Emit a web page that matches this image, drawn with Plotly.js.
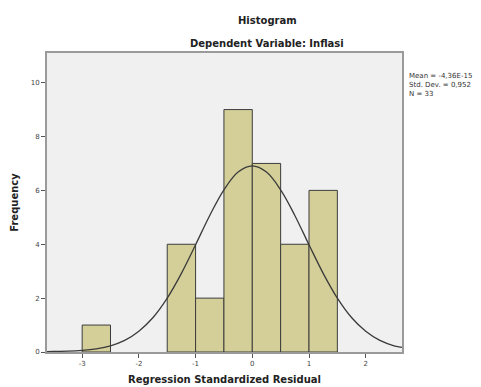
<!DOCTYPE html>
<html>
<head>
<meta charset="utf-8">
<script src="https://cdn.plot.ly/plotly-3.0.1.min.js"></script>
<style>html,body{margin:0;padding:0;background:#fff;}#chart{width:481px;height:387px;}</style>
</head>
<body>
<div id="chart"></div>
<script>
// Histogram bins (centers, width 0.5) and frequencies
const binCenters = [-2.75, -1.25, -0.75, -0.25, 0.25, 0.75, 1.25];
const frequencies = [1, 4, 2, 9, 7, 4, 6];
// Normal curve points
const curveX = [-3.62, -3.5, -3.25, -3.0, -2.75, -2.5, -2.25, -2.0, -1.75, -1.5, -1.25, -1.0, -0.75, -0.5, -0.25, 0, 0.25, 0.5, 0.75, 1.0, 1.25, 1.5, 1.75, 2.0, 2.25, 2.5, 2.64];
const curveY = [0.01, 0.02, 0.03, 0.06, 0.12, 0.23, 0.43, 0.77, 1.28, 2.0, 2.92, 3.98, 5.07, 6.02, 6.68, 6.91, 6.68, 6.02, 5.07, 3.98, 2.92, 2.0, 1.28, 0.77, 0.43, 0.23, 0.17];
const xTicks = [-3, -2, -1, 0, 1, 2];
const yTicks = [0, 2, 4, 6, 8, 10];
const statsLines = ["Mean = -4,36E-15", "Std. Dev. = 0,952", "N = 33"];

const traces = [
  {
    type: 'bar', x: binCenters, y: frequencies, width: 0.5,
    marker: {color: '#d4cf98', line: {color: '#3c3c3c', width: 1}},
    hoverinfo: 'skip'
  },
  {
    type: 'scatter', mode: 'lines', x: curveX, y: curveY,
    line: {color: '#3a3a3a', width: 1.3, shape: 'spline'},
    hoverinfo: 'skip'
  }
];

const FONT = 'DejaVu Sans, Verdana, sans-serif';
const layout = {
  width: 481, height: 387,
  margin: {l: 47, r: 79, t: 53, b: 35},
  paper_bgcolor: '#ffffff', plot_bgcolor: '#f0f0f0',
  showlegend: false,
  font: {family: FONT, color: '#222'},
  xaxis: {
    range: [-3.62, 2.64], tickvals: xTicks, ticktext: xTicks.map(String),
    showgrid: false, zeroline: false, ticks: 'outside', ticklen: 4, tickcolor: '#555',
    tickfont: {size: 7, color: '#444'},
    showline: true, linecolor: '#9a9a9a', linewidth: 2, mirror: true,
    title: {text: '<b>Regression Standardized Residual</b>', font: {size: 10, color: '#222'}, standoff: 9}
  },
  yaxis: {
    range: [0, 11.1], tickvals: yTicks, ticktext: yTicks.map(String),
    showgrid: false, zeroline: false, ticks: 'outside', ticklen: 4, tickcolor: '#555',
    tickfont: {size: 7, color: '#444'},
    showline: true, linecolor: '#9a9a9a', linewidth: 2, mirror: true,
    title: {text: '<b>Frequency</b>', font: {size: 10, color: '#222'}, standoff: 10}
  },
  annotations: [
    {text: '<b>Histogram</b>', xref: 'paper', yref: 'paper', x: 0.62, y: 1, xanchor: 'center', yanchor: 'middle',
     yshift: 33, showarrow: false, font: {size: 10, color: '#222'}},
    {text: '<b>Dependent Variable: Inflasi</b>', xref: 'paper', yref: 'paper', x: 0.62, y: 1, xanchor: 'center', yanchor: 'middle',
     yshift: 10, showarrow: false, font: {size: 10, color: '#222'}},
    {text: statsLines.join('<br>'), xref: 'paper', yref: 'paper', x: 1, y: 1, xanchor: 'left', yanchor: 'top',
     xshift: 5, yshift: -17, align: 'left', showarrow: false, font: {size: 7, color: '#333'}}
  ]
};
// center titles at ~x=267px
layout.annotations[0].x = (267 - 47) / (481 - 47 - 79);
layout.annotations[1].x = (267 - 47) / (481 - 47 - 79);

Plotly.newPlot('chart', traces, layout, {staticPlot: true, displayModeBar: false});
</script>
</body>
</html>
